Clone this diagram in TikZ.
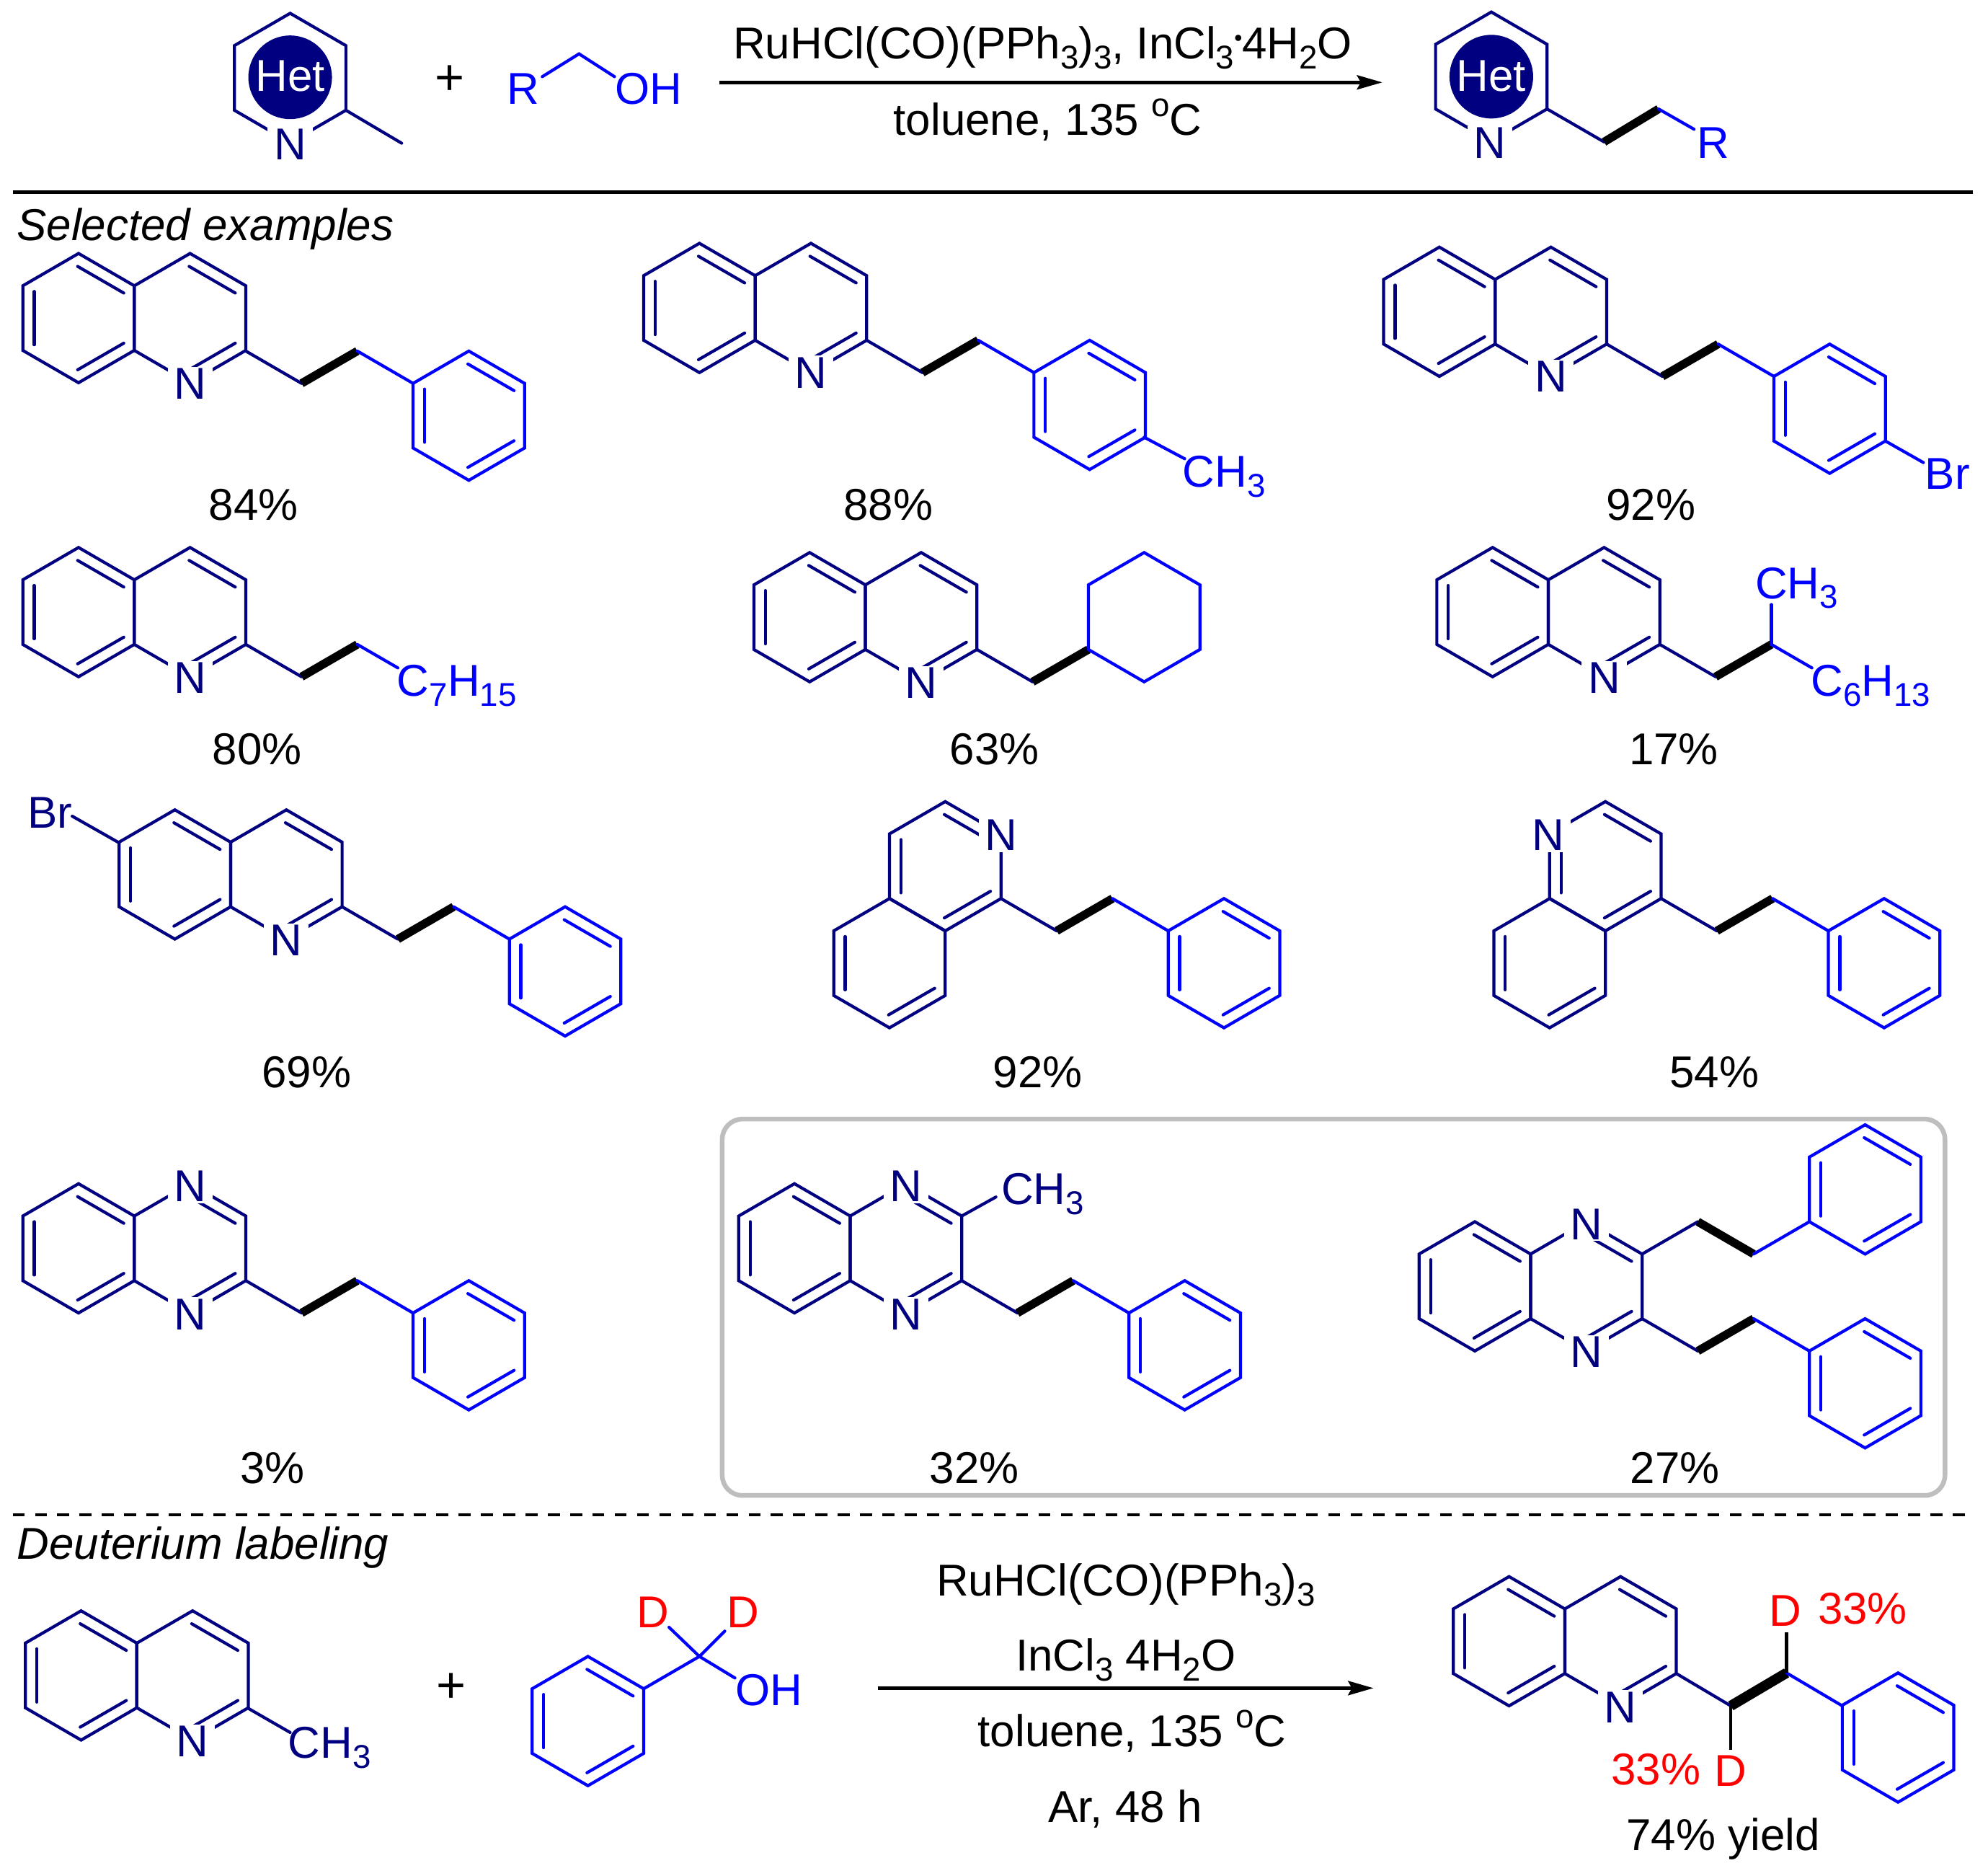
\documentclass[tikz,border=0pt]{standalone}
\usepackage{fontspec}
\usetikzlibrary{calc,arrows.meta}
\setmainfont{Liberation Sans}
\definecolor{hetnavy}{RGB}{0,0,128}
\definecolor{rblue}{RGB}{0,0,255}
\definecolor{boxgray}{RGB}{190,190,190}
\newcommand\lo[1]{\raisebox{-.22em}{\fontsize{13}{13}\selectfont #1}}
\newcommand\hi[1]{\raisebox{.42em}{\fontsize{13}{13}\selectfont #1}}
\tikzset{
  bond/.style={line width=1.2pt,line cap=round,line join=miter},
  heavy/.style={line width=3.3pt,line cap=butt,black},
  lab/.style={font=\fontsize{17.6}{20}\selectfont,inner sep=0pt,text depth=0pt},
  atomn/.style={lab,hetnavy,fill=white,inner xsep=2.5pt,inner ysep=0.6pt},
  yld/.style={lab,black},
  rxn/.style={line width=1.4pt,-{Stealth[length=10pt,width=5.6pt,inset=1.5pt]}},
}
\newcommand\hexo[3]{\draw[bond,#1] ({#2},{#3-51}) -- ({#2+44},{#3-25.5}) -- ({#2+44},{#3+25.5}) -- ({#2},{#3+51}) -- ({#2-44},{#3+25.5}) -- ({#2-44},{#3-25.5}) -- cycle;}
\newcommand\hexr[4]{\hexo{#1}{#2}{#3}
  \foreach \e in {#4}{\draw[bond,#1] ($({#2},{#3})+({-60+60*(\e-1)+31}:40.8)$) -- ($({#2},{#3})+({-60+60*(\e-1)-31}:40.8)$);}}
\newcommand\quin[2]{\hexr{hetnavy}{#1}{#2}{1,3,5}\hexr{hetnavy}{#1+88}{#2}{1,3}}
\newcommand\chainr[3]{%
  \coordinate (c0) at ({#1},{#2});
  \coordinate (c1) at ({#1+44},{#2+(#3)*25.5});
  \coordinate (c2) at ({#1+88},{#2});
  \coordinate (c3) at ({#1+132},{#2+(#3)*25.5});
  \draw[bond,hetnavy] (c0) -- (c1);
  \draw[heavy] (c1) -- (c2);
  \draw[bond,rblue] (c2) -- (c3);
  \hexr{rblue}{#1+176}{#2+(#3)*51}{1,3,5}}
\begin{document}
\begin{tikzpicture}[x=0.5pt,y=-0.5pt]
\useasboundingbox (0,0) rectangle (1569,1480.26);
% top scheme
\hexo{hetnavy}{229}{61.5}
\draw[bond,hetnavy] (273,87) -- (317,113);
\node[atomn] (tn) at (229,114) {N};
\fill[hetnavy] (229,61) circle[radius=33];
\node[lab,white] (thet) at (229,60) {Het};
\node[lab,font=\fontsize{20}{20}\selectfont] (tplus) at (355,63) {+};
\node[lab,rblue] (tr) at (413,70) {R};
\node[lab,rblue] (toh) at (512,70) {OH};
\coordinate (tc) at (457,42.5);
\draw[bond,rblue] (428,60.5) -- (tc) -- (485,60.5);
\coordinate (ta) at (568,65); \coordinate (tb) at (1091,65);
\draw[rxn] (ta) -- (tb);
\node[lab,anchor=base] (tcat) at (823,46.5) {RuHCl(CO)(PPh\lo{3})\lo{3}, InCl\lo{3}\raisebox{.3em}{\fontsize{9}{9}\selectfont •}4H\lo{2}O};
\node[lab,anchor=base] (ttol) at (827,106.5) {toluene, 135 \hi{o}C};
\hexo{hetnavy}{1177}{60.5}
\node[atomn] (pn) at (1176,113) {N};
\fill[hetnavy] (1177,60.5) circle[radius=33];
\node[lab,white] (phet) at (1177,60) {Het};
\draw[bond,hetnavy] (1221,86) -- (1266,112);
\draw[heavy] (1266,112) -- (1309,86);
\draw[bond,rblue] (1309,86) -- (1337,102);
\node[lab,rblue] (pr) at (1352,113) {R};
\draw[line width=1.4pt] (10,151.5) -- (1557,151.5);
\node[lab,anchor=base west,font=\fontsize{17.6}{20}\selectfont\itshape] (sel) at (13,189.5) {Selected examples};
% 1
\quin{62}{251}\chainr{194}{277}{1}
\node[atomn] (n1) at (150,303) {N};
\node[yld] (y1) at (200,398) {84\%};
% 2
\quin{552}{243}\chainr{684}{268.5}{1}
\node[atomn] (n2) at (640,294) {N};
\draw[bond,rblue] (903,345) -- (935,362);
\node[lab,rblue,anchor=west] (m2) at (933,372) {CH\lo{3}};
\node[yld] (y2) at (701,398) {88\%};
% 3
\quin{1136}{246}\chainr{1268}{271.5}{1}
\node[atomn] (n3) at (1224,297) {N};
\draw[bond,rblue] (1488,348) -- (1518,365);
\node[lab,rblue] (b3) at (1537,374) {Br};
\node[yld] (y3) at (1303,398) {92\%};
% 4
\quin{62}{483}
\draw[bond,hetnavy] (194,508.5) -- (238,534);
\draw[heavy] (238,534) -- (282,508.5);
\draw[bond,rblue] (282,508.5) -- (314,527);
\node[atomn] (n4) at (150,535) {N};
\node[lab,rblue,anchor=west] (a4) at (313,537) {C\lo{7}H\lo{15}};
\node[yld] (y4) at (203,591) {80\%};
% 5
\quin{639}{487}
\draw[bond,hetnavy] (771,512.5) -- (815,538);
\draw[heavy] (815,538) -- (859,512.5);
\hexo{rblue}{903}{487}
\node[atomn] (n5) at (727,539) {N};
\node[yld] (y5) at (785,591) {63\%};
% 6
\quin{1178}{483}
\draw[bond,hetnavy] (1310,508.5) -- (1354,534);
\draw[heavy] (1354,534) -- (1398,508.5);
\draw[bond,rblue] (1398,508.5) -- (1398,477);
\draw[bond,rblue] (1398,508.5) -- (1430,527);
\node[atomn] (n6) at (1266,535) {N};
\node[lab,rblue] (m6) at (1418,460) {CH\lo{3}};
\node[lab,rblue,anchor=west] (a6) at (1429,537) {C\lo{6}H\lo{13}};
\node[yld] (y6) at (1321,591) {17\%};
% 7
\quin{138}{690}\chainr{270}{715.5}{1}
\draw[bond,hetnavy] (94,665) -- (57,644);
\node[atomn] (n7) at (226,742) {N};
\node[lab,hetnavy] (b7) at (39.5,641) {Br};
\node[yld] (y7) at (242,846) {69\%};
% 8
\hexr{hetnavy}{746}{683.5}{1,3,5}
\hexr{hetnavy}{702}{760}{3,5}
\chainr{790}{709}{1}
\node[atomn] (n8) at (790,659) {N};
\node[yld] (y8) at (819,846) {92\%};
% 9
\hexr{hetnavy}{1267}{683.5}{1,3,5}
\hexr{hetnavy}{1223}{760}{3,5}
\chainr{1311}{709}{1}
\node[atomn] (n9) at (1222,659) {N};
\node[yld] (y9) at (1353,846) {54\%};
% 10
\quin{62}{985}\chainr{194}{1010.5}{1}
\node[atomn] (n10a) at (150,936) {N};
\node[atomn] (n10b) at (150,1037) {N};
\node[yld] (y10) at (215,1158) {3\%};
% box
\draw[boxgray,line width=1.85pt,rounded corners=8pt] (570,883) rectangle (1535,1180);
% 11
\quin{627}{985}\chainr{759}{1010.5}{1}
\draw[bond,hetnavy] (759,959.5) -- (786,944.5);
\node[atomn] (n11a) at (715,936) {N};
\node[atomn] (n11b) at (715,1037) {N};
\node[lab,hetnavy] (m11) at (823,938) {CH\lo{3}};
\node[yld] (y11) at (769,1158) {32\%};
% 12
\quin{1164}{1015}\chainr{1296}{989.5}{-1}\chainr{1296}{1040.5}{1}
\node[atomn] (n12a) at (1252,966) {N};
\node[atomn] (n12b) at (1252,1067) {N};
\node[yld] (y12) at (1322,1158) {27\%};
% dashed
\draw[line width=1.3pt,dash pattern=on 4.7pt off 4.1pt] (10,1195.3) -- (1558,1195.3);
\node[lab,anchor=base west,font=\fontsize{17.6}{20}\selectfont\itshape] (deu) at (13,1230) {Deuterium labeling};
% bottom
\quin{64}{1322}
\draw[bond,hetnavy] (196,1348) -- (229,1367);
\node[atomn] (n13) at (152,1374) {N};
\node[lab,hetnavy,anchor=west] (m13) at (227,1375) {CH\lo{3}};
\node[lab,font=\fontsize{20}{20}\selectfont] (bplus) at (356,1332) {+};
\hexr{rblue}{464}{1358}{1,3,5}
\coordinate (bc) at (552,1307);
\draw[bond,rblue] (508,1332.5) -- (bc) -- (580,1324);
\draw[bond,rblue] (bc) -- (528,1284);
\draw[bond,rblue] (bc) -- (572,1287);
\node[lab,red] (d1) at (515.5,1272) {D};
\node[lab,red] (d2) at (586.5,1272) {D};
\node[lab,rblue] (boh) at (607,1333.5) {OH};
\coordinate (ba) at (693,1332); \coordinate (bb) at (1084,1332);
\draw[rxn] (ba) -- (bb);
\node[lab,anchor=base] (r1) at (888.5,1259.5) {RuHCl(CO)(PPh\lo{3})\lo{3}};
\node[lab,anchor=base] (r2) at (888.5,1318.5) {InCl\lo{3} 4H\lo{2}O};
\node[lab,anchor=base] (r3) at (893.5,1378) {toluene, 135 \hi{o}C};
\node[lab,anchor=base] (r4) at (888,1438) {Ar, 48 h};
\quin{1191}{1295}
\draw[bond,hetnavy] (1323,1320.5) -- (1366,1346);
\draw[line width=4pt,black] (1366,1346) -- (1410,1320);
\draw[bond,rblue] (1410,1320) -- (1454,1346);
\hexr{rblue}{1498}{1371}{1,3,5}
\draw[line width=1.2pt,black] (1410,1320) -- (1410,1288);
\draw[line width=1.2pt,black] (1366,1346) -- (1366,1380.5);
\node[atomn] (n14) at (1279,1347) {N};
\node[lab,red] (d3) at (1409,1271) {D};
\node[lab,red] (p3) at (1470,1269) {33\%};
\node[lab,red] (d4) at (1366,1397.5) {D};
\node[lab,red] (p4) at (1307,1396) {33\%};
\node[yld] (y14) at (1360,1447.5) {74\% yield};
\end{tikzpicture}
\end{document}
